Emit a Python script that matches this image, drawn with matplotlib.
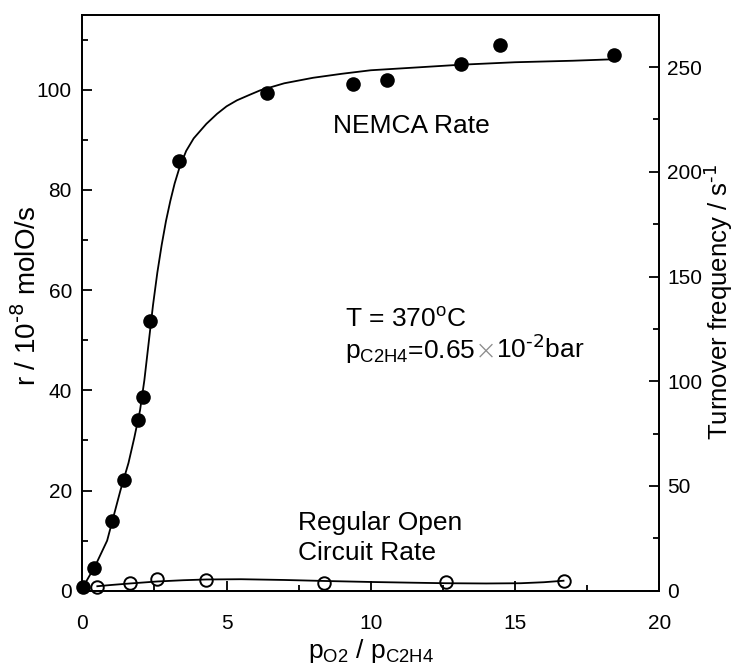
import numpy as np
import matplotlib
matplotlib.use("Agg")
import matplotlib.pyplot as plt
from matplotlib.ticker import MultipleLocator

plt.rcParams['font.family'] = ['Liberation Sans', 'DejaVu Sans']
plt.rcParams['mathtext.default'] = 'regular'

# measured rates under NEMCA (closed circuit) and open circuit
nemca_x = [0.03, 0.41, 1.04, 1.45, 1.92, 2.09, 2.35, 3.36, 6.40, 9.37, 10.56, 13.14, 14.49, 18.44]
nemca_r = [0.8, 4.6, 13.9, 22.1, 34.0, 38.7, 53.9, 85.8, 99.3, 101.2, 101.9, 105.1, 108.9, 106.9]

open_x = [0.52, 1.65, 2.60, 4.28, 8.39, 12.62, 16.68]
open_r = [0.8, 1.5, 2.3, 2.1, 1.6, 1.7, 2.0]

# hand-drawn guide curves through the data
nemca_fit_x = [0.0, 0.45, 0.86, 1.32, 1.6, 1.8, 2.0, 2.15, 2.3, 2.45, 2.6, 2.75, 2.9, 3.05,
               3.2, 3.37, 3.6, 3.86, 4.3, 4.67, 5.0, 5.36, 5.8, 6.17, 7.0, 8.0, 9.0, 10.0, 11.7,
               13.1, 15.0, 17.0, 18.44]
nemca_fit_r = [0.5, 5.0, 10.0, 20.0, 25.5, 30.5, 36.0, 42.0, 49.5, 57.0, 63.5, 69.0, 73.8, 77.8,
               81.3, 84.5, 87.8, 90.3, 93.2, 95.2, 96.7, 97.9, 99.0, 99.9, 101.3, 102.4, 103.2, 103.9, 104.5,
               105.0, 105.5, 105.8, 106.1]

open_fit_x = [0.52, 1.0, 1.65, 2.6, 3.5, 4.3, 5.5, 7.0, 8.4, 10.0, 11.5, 12.6, 14.0, 15.2, 16.0, 16.68]
open_fit_r = [0.9, 1.15, 1.45, 1.85, 2.1, 2.25, 2.3, 2.15, 1.95, 1.75, 1.6, 1.5, 1.45, 1.5, 1.7, 2.0]

# turnover frequency per unit rate (right axis scale)
tof_factor = 275.0 / 115.0

fig = plt.figure(figsize=(7.35, 6.66), dpi=100)
ax = fig.add_axes([0.112, 0.113, 0.785, 0.865])

ax.plot(nemca_fit_x, nemca_fit_r, color='k', lw=1.3, zorder=2)
ax.plot(open_fit_x, open_fit_r, color='k', lw=1.3, zorder=2)
ax.plot(nemca_x, nemca_r, 'o', color='k', ms=10.5, mew=0, zorder=3, clip_on=False)
ax.plot(open_x, open_r, 'o', mfc='none', mec='k', ms=9, mew=1.4, zorder=3, clip_on=False)

ax.set_xlim(0, 20)
ax.set_ylim(0, 115)
ax.xaxis.set_major_locator(MultipleLocator(5))
ax.xaxis.set_minor_locator(MultipleLocator(2.5))
ax.yaxis.set_major_locator(MultipleLocator(20))
ax.yaxis.set_minor_locator(MultipleLocator(10))
ax.tick_params(which='both', direction='in', top=False, right=False, width=1.3, labelsize=15)
ax.tick_params(which='major', length=7.2)
ax.tick_params(which='minor', length=4.5)
ax.tick_params(axis='y', pad=7.5)
ax.tick_params(axis='x', pad=17)

ax2 = ax.twinx()
ax2.set_ylim(0, 115 * tof_factor)
ax2.yaxis.set_major_locator(MultipleLocator(50))
ax2.yaxis.set_minor_locator(MultipleLocator(25))
ax2.tick_params(which='both', direction='in', width=1.3, labelsize=15, pad=5.5)
ax2.tick_params(which='major', length=7.2)
ax2.tick_params(which='minor', length=4.5)

for a in (ax, ax2):
    for s in a.spines.values():
        s.set_linewidth(1.3)

fig.text(0.037, 0.556, r'r / 10$^{\text{-8}}$ molO/s', rotation=90, ha='center', va='center', fontsize=20)
fig.text(0.978, 0.547, r'Turnover frequency / s$^{\text{-1}}$', rotation=90, ha='center', va='center',
         fontsize=18.5)
fig.text(0.504, 0.012, 'p$_{O2}$ / p$_{C2H4}$', ha='center', va='baseline', fontsize=19)

fig.text(333 / 735, 1 - 133 / 666, 'NEMCA Rate', fontsize=19, va='baseline')
fig.text(345 / 735, 1 - 327 / 666, 'T = 370$^{o}$C', fontsize=19, va='baseline')
fig.text(298 / 735, 1 - 530 / 666, 'Regular Open', fontsize=19, va='baseline')
fig.text(298 / 735, 1 - 560 / 666, 'Circuit Rate', fontsize=19, va='baseline')

# partial pressure line, with a light multiplication sign
base_y = 1 - 358 / 666
t1 = fig.text(345 / 735, base_y, 'p$_{C2H4}$=0.65', fontsize=19, va='baseline')
fig.canvas.draw()
x_next = fig.transFigure.inverted().transform((t1.get_window_extent().x1, 0))[0]
t2 = fig.text(x_next - 0.001, base_y, '\u00d7', fontsize=19, va='baseline', color='0.55',
              family='DejaVu Sans', fontweight='light')
fig.canvas.draw()
x_next = fig.transFigure.inverted().transform((t2.get_window_extent().x1, 0))[0]
fig.text(x_next - 0.001, base_y, r'10$^{\text{-2}}$bar', fontsize=19, va='baseline')

fig.savefig('out.png', dpi=100)
